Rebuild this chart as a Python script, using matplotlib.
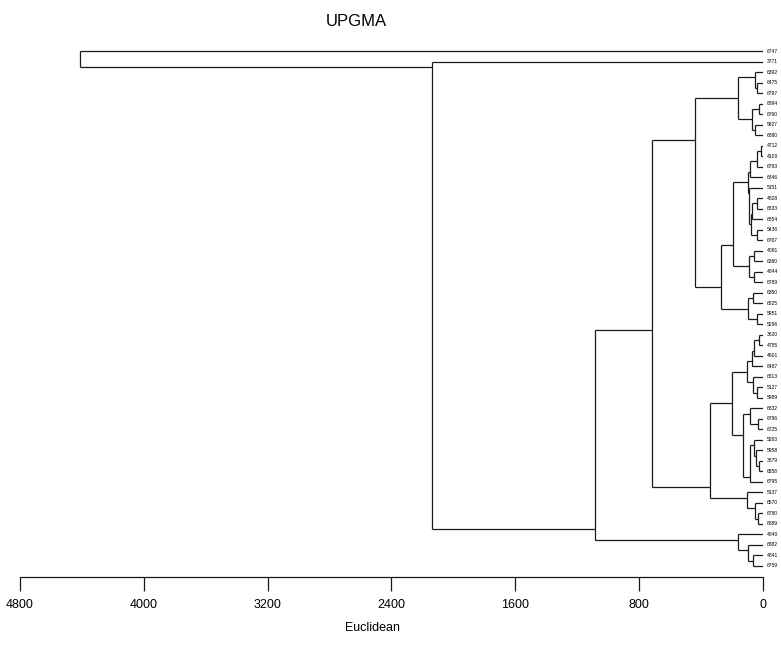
import matplotlib
matplotlib.use("Agg")
import matplotlib.pyplot as plt

# leaf order, top to bottom
leaves = ["6747", "3771", "6392", "6475", "6797", "6894", "6760", "5827", "6880",
          "4712", "4100", "6783", "6846", "5151", "4828", "6833", "6854", "5436",
          "6767", "4081", "6380", "4844", "6789", "6350", "6825", "5951", "5296",
          "3620", "4755", "4601", "6487", "6813", "5127", "5989", "6832", "6786",
          "6725", "5283", "5958", "3879", "6558", "6795", "5137", "6570", "6780",
          "6889", "4840", "6882", "4841", "6759"]

# merges (UPGMA, Euclidean distance)
node_id = ["c%d" % i for i in range(1, 50)]
left = ["6475", "6392", "6894", "5827", "c3", "c2",
        "4712", "c7", "c8", "4828", "c10", "5436", "c11", "5151", "c9",
        "4081", "4844", "c16", "c15",
        "6350", "5951", "c20", "c19", "c6",
        "3620", "c25", "c26", "5127", "6813", "c27",
        "6786", "6832", "3879", "5958", "5283", "c35", "c32", "c30",
        "6780", "6570", "5137", "c38", "c24",
        "4841", "6882", "4840", "c43", "3771", "6747"]
right = ["6797", "c1", "6760", "6880", "c4", "c5",
         "4100", "6783", "6846", "6833", "6854", "6767", "c12", "c13", "c14",
         "6380", "6789", "c17", "c18",
         "6825", "5296", "c21", "c22", "c23",
         "4755", "4601", "6487", "5989", "c28", "c29",
         "6725", "c31", "6558", "c33", "c34", "6795", "c36", "c37",
         "6889", "c39", "c40", "c41", "c42",
         "6759", "c44", "c45", "c46", "c47", "c48"]
height = [39, 52, 26, 52, 71, 161,
          15, 36, 84, 41, 68, 39, 78, 90, 100,
          58, 55, 90, 196,
          65, 39, 97, 273, 439,
          26, 58, 73, 39, 65, 105,
          32, 84, 26, 45, 58, 84, 131, 202,
          30, 52, 105, 342, 717,
          67, 95, 159, 1085, 2138, 4412]

ticks = [4800, 4000, 3200, 2400, 1600, 800, 0]

plt.rcParams['font.family'] = ['Liberation Sans', 'DejaVu Sans']

W, H = 781, 645
fig = plt.figure(figsize=(W / 100, H / 100), dpi=100)
# axes placed in pixels: x from 20 to 763, y from 40 to 577
ax = fig.add_axes([20 / W, 1 - 577 / H, 743 / W, 537 / H])

children = {n: (a, b, h) for n, a, b, h in zip(node_id, left, right, height)}
ypos = {name: i + 1 for i, name in enumerate(leaves)}
lc = "#1a1a1a"
lw = 0.9


def draw(node):
    # returns (connection y, first leaf y, last leaf y, height)
    if node not in children:
        y = ypos[node]
        return y, y, y, 0
    a, b, h = children[node]
    ya, fa, la, ha = draw(a)
    yb, fb, lb, hb = draw(b)
    ax.plot([h, h], [ya, yb], color=lc, lw=lw, solid_capstyle="butt")
    ax.plot([h, ha], [ya, ya], color=lc, lw=lw, solid_capstyle="butt")
    ax.plot([h, hb], [yb, yb], color=lc, lw=lw, solid_capstyle="butt")
    return (la + fb) / 2, fa, lb, h


draw(node_id[-1])

for name, y in ypos.items():
    ax.annotate(name, (0, y), xytext=(3, 0), textcoords="offset points",
                fontsize=3.6, va="center", ha="left", annotation_clip=False)

ax.set_xlim(4800, 0)
ax.set_ylim(50 + 11 / 10.51, 1 - 11 / 10.51)
for s in ["top", "left", "right"]:
    ax.spines[s].set_visible(False)
ax.spines["bottom"].set_color(lc)
ax.spines["bottom"].set_linewidth(lw)
ax.set_yticks([])
ax.set_xticks(ticks)
ax.set_xticklabels([str(t) for t in ticks], fontsize=9)
ax.tick_params(axis="x", direction="out", length=10, width=lw, color=lc, pad=6)

fig.text(356 / W, 1 - 22 / H, "UPGMA", ha="center", va="center", fontsize=12)
fig.text(372 / W, 1 - 628 / H, "Euclidean", ha="center", va="center", fontsize=9)

fig.savefig("out.png", dpi=100)
